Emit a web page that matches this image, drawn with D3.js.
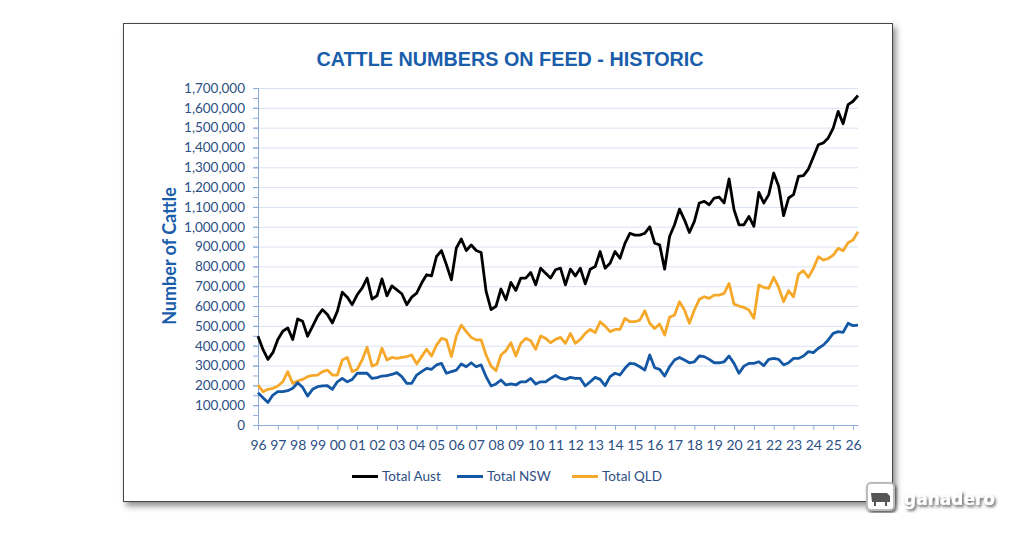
<!DOCTYPE html>
<html>
<head>
<meta charset="utf-8">
<script src="https://cdn.jsdelivr.net/npm/d3@7"></script>
<style>
  body { margin: 0; background: #fff; }
  svg { display: block; }
  .axis text { font-family: Lato, "Open Sans", sans-serif; font-size: 13.5px; fill: #2d4f85; }
  .axis .domain, .axis .tick line { stroke: #8eaadb; }
  .grid .tick line { stroke: #d9e2f1; }
  .grid .domain { display: none; }
</style>
</head>
<body>
<div class="chartHolder"></div>
<script>
// quarterly cattle on feed numbers, 1996 Q1 .. 2026 Q2 (thousands of head)
const yearLabels = ['96','97','98','99','00','01','02','03','04','05','06','07','08','09','10',
  '11','12','13','14','15','16','17','18','19','20','21','22','23','24','25','26']

const totalAust = [
  448,381,331,365, 431,473,490,431, 535,523,448,498, 548,582,557,515,
  573,670,645,607, 657,690,741,635, 652,737,652,702, 682,662,607,645,
  665,716,758,752, 850,880,808,732, 893,938,880,908, 880,870,674,582,
  599,686,632,719, 679,741,741,769, 707,791,766,741, 783,791,707,786,
  752,791,712,786, 799,875,791,816, 875,841,916,967, 958,958,967,1000,
  917,909,786,951, 1010,1089,1035,971, 1027,1120,1128,1111, 1145,1150,1120,1241,
  1086,1010,1010,1052, 1002,1173,1120,1162, 1271,1204,1056,1145, 1162,1254,1258,1291,
  1352,1414,1423,1448, 1498,1582,1520,1616, 1633,1662
]

const totalNSW = [
  163,138,113,151, 168,168,173,185, 213,190,146,180, 193,197,198,180,
  218,235,218,230, 261,261,261,235, 239,247,249,255, 264,244,210,210,
  252,269,286,281, 303,311,261,269, 277,308,294,314, 294,303,244,197,
  207,227,202,207, 202,218,218,235, 207,218,218,235, 250,235,230,240,
  235,235,197,218, 240,230,198,244, 261,252,286,311, 308,294,277,353,
  289,281,247,294, 328,341,328,314, 319,348,345,331, 314,314,319,348,
  311,261,297,311, 311,319,299,331, 336,331,303,314, 336,336,348,370,
  365,387,403,429, 462,471,467,513, 501,504
]

const totalQLD = [
  202,168,180,185, 197,218,269,210, 222,230,244,250, 252,269,277,252,
  252,328,341,269, 281,328,392,297, 308,387,328,341, 336,341,345,353,
  308,345,382,348, 403,437,429,345, 449,504,471,442, 429,429,353,297,
  274,353,375,415, 348,412,437,425, 382,449,437,415, 432,442,412,462,
  412,432,462,482, 466,521,499,471, 482,482,538,521, 521,529,576,513,
  487,509,454,543, 555,622,580,513, 580,634,647,639, 655,655,664,714,
  610,600,593,580, 538,706,694,689, 745,694,622,677, 647,761,778,745,
  790,849,832,840, 857,891,879,919, 933,975
]

const seriesNames = ['Total Aust', 'Total NSW', 'Total QLD']
const seriesColors = ['#000000', '#1457a5', '#f5a82a']

const render = () => {
  const W = 1024, H = 535
  const margin = { top: 88, right: 166, bottom: 110, left: 258 }
  const width = W - margin.left - margin.right
  const height = H - margin.top - margin.bottom

  const svg = d3.select('.chartHolder').append('svg')
    .attr('width', W)
    .attr('height', H)

  const defs = svg.append('defs')
  defs.append('filter').attr('id', 'frameShadow')
    .attr('x', '-5%').attr('y', '-5%').attr('width', '112%').attr('height', '115%')
    .append('feDropShadow')
    .attr('dx', 3).attr('dy', 4).attr('stdDeviation', 3)
    .attr('flood-color', '#000').attr('flood-opacity', 0.45)
  defs.append('filter').attr('id', 'logoShadow')
    .append('feDropShadow')
    .attr('dx', 1.5).attr('dy', 2).attr('stdDeviation', 1.5)
    .attr('flood-color', '#333').attr('flood-opacity', 0.8)

  // chart frame
  svg.append('rect')
    .attr('x', 123.5).attr('y', 23.5)
    .attr('width', 769).attr('height', 478)
    .attr('fill', '#fff')
    .attr('stroke', '#444')
    .attr('stroke-width', 1)
    .attr('filter', 'url(#frameShadow)')

  svg.append('text')
    .attr('x', 510)
    .attr('y', 66)
    .attr('text-anchor', 'middle')
    .style('font-family', '"Liberation Sans", Arial, sans-serif')
    .style('font-weight', 'bold')
    .style('font-size', '19.8px')
    .style('fill', '#1a5dab')
    .text('CATTLE NUMBERS ON FEED - HISTORIC')

  const graph = svg.append('g')
    .attr('transform', `translate(${margin.left},${margin.top})`)

  const n = totalAust.length
  const xScale = d3.scaleLinear().domain([0, n - 1]).range([0, width])
  const yScale = d3.scaleLinear().domain([0, 1700000]).range([height, 0])

  const majors = d3.range(0, 1700001, 100000)
  const minors = d3.range(0, 1700001, 50000)

  graph.append('g')
    .attr('class', 'grid')
    .call(d3.axisLeft(yScale).tickValues(majors.slice(1)).tickSize(-width).tickFormat(''))

  graph.append('g')
    .attr('class', 'axis')
    .call(d3.axisLeft(yScale).tickValues(minors).tickSize(5).tickSizeOuter(0).tickFormat(''))

  graph.append('g')
    .attr('class', 'axis')
    .call(d3.axisLeft(yScale).tickValues(majors).tickSize(5).tickSizeOuter(0)
      .tickPadding(8).tickFormat(d3.format(',')))

  const yearTicks = d3.range(0, n, 4)
  graph.append('g')
    .attr('class', 'axis')
    .attr('transform', `translate(0,${height})`)
    .call(d3.axisBottom(xScale).tickValues(yearTicks).tickSize(5).tickSizeOuter(0)
      .tickPadding(10).tickFormat((d, i) => yearLabels[i]))
    .selectAll('text').style('font-size', '14px')

  graph.append('text')
    .attr('transform', `translate(${170 - margin.left},${256 - margin.top}) rotate(-90)`)
    .attr('text-anchor', 'middle')
    .attr('dy', '0.35em')
    .style('font-family', 'Lato, "Open Sans", sans-serif')
    .style('font-weight', 'bold')
    .style('font-size', '18px')
    .style('fill', '#1a5dab')
    .text('Number of Cattle')

  const line = d3.line()
    .x((d, i) => xScale(i))
    .y(d => yScale(d * 1000))

  const allSeries = [totalAust, totalNSW, totalQLD]
  // draw QLD and NSW first so the black line sits on top like the original
  ;[2, 1, 0].forEach(k => {
    graph.append('path')
      .datum(allSeries[k])
      .attr('fill', 'none')
      .attr('stroke', seriesColors[k])
      .attr('stroke-width', 2.8)
      .attr('stroke-linejoin', 'round')
      .attr('d', line)
  })

  // legend
  const legendX = [352, 457, 572]
  const legend = svg.append('g')
  seriesNames.forEach((name, k) => {
    legend.append('line')
      .attr('x1', legendX[k]).attr('x2', legendX[k] + 26)
      .attr('y1', 476.5).attr('y2', 476.5)
      .attr('stroke', seriesColors[k])
      .attr('stroke-width', 3)
    legend.append('text')
      .attr('x', legendX[k] + 30)
      .attr('y', 476.5)
      .attr('dy', '0.35em')
      .style('font-family', 'Lato, "Open Sans", sans-serif')
      .style('font-size', '13.5px')
      .style('fill', '#2d4f85')
      .text(name)
  })

  // watermark
  const logo = svg.append('g').attr('filter', 'url(#logoShadow)')
  logo.append('rect')
    .attr('x', 867).attr('y', 483)
    .attr('width', 27).attr('height', 27)
    .attr('rx', 4)
    .attr('fill', '#fff')
    .attr('stroke', '#bbb')
    .attr('stroke-width', 2)
  logo.append('path')
    .attr('d', 'M871,493 h16 l3,3 v6 h-3 v4 h-2 v-4 h-9 v4 h-2 v-4 h-2 z')
    .attr('fill', '#555')
  logo.append('text')
    .attr('x', 904)
    .attr('y', 505)
    .style('font-family', '"DejaVu Sans", sans-serif')
    .style('font-weight', 'bold')
    .style('font-size', '17px')
    .style('fill', '#fff')
    .text('ganadero')
}

render()
</script>
</body>
</html>
